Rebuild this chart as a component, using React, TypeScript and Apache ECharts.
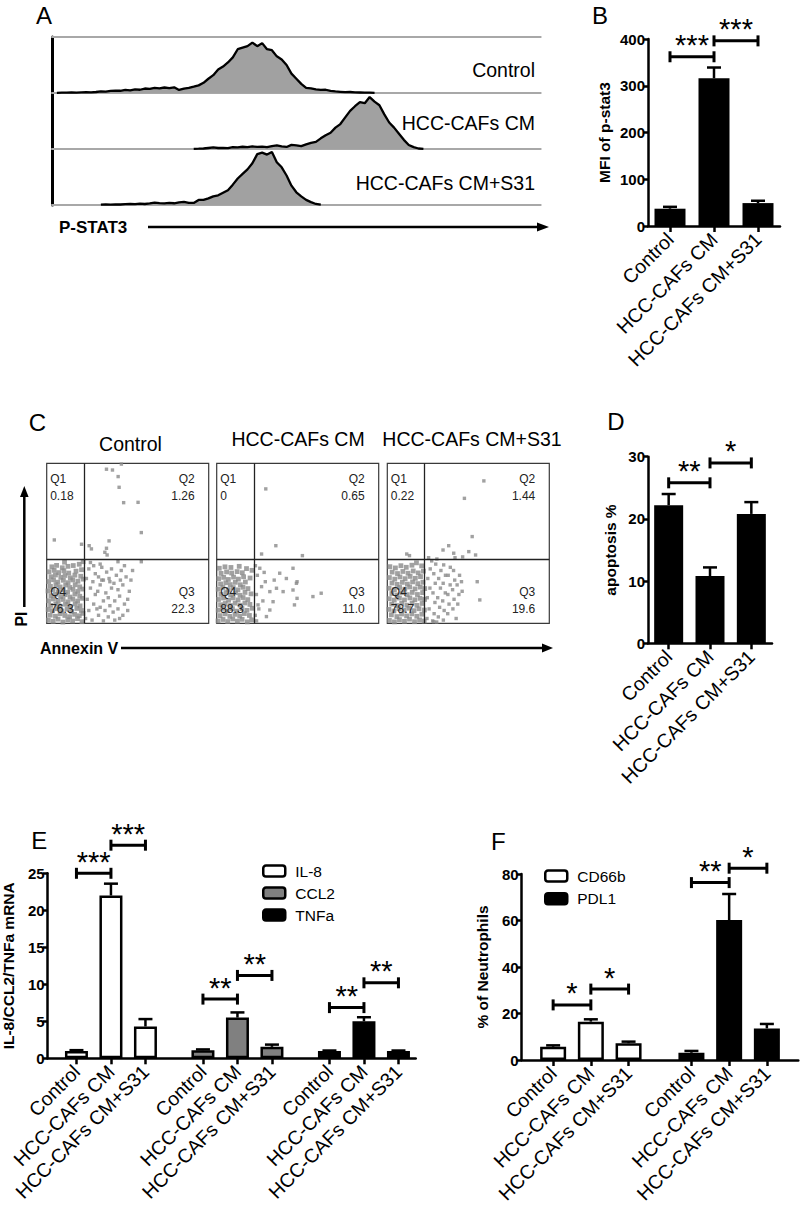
import React, { useEffect, useRef } from 'react';
import * as echarts from 'echarts';

const FONT = '"Liberation Sans", Arial, Helvetica, sans-serif';

// ---------------- Panel A : P-STAT3 histograms (events per channel bin) ----------------
const A_LABELS = ['Control', 'HCC-CAFs CM', 'HCC-CAFs CM+S31'];
const HIST_CONTROL = [
  0, 0.2, 0.3, 0.3, 0.5, 0.4, 0.7, 0.8, 0.6, 1.0,
  1.5, 1.3, 2, 2.4, 2.2, 3, 2.6, 3.6, 3.2, 4.4,
  4, 5, 4.6, 5.4, 4.8, 5.6, 3, 4.2, 5, 6.2,
  7.5, 10, 14, 17.5, 23, 26, 30, 35, 43, 44.5,
  46, 49.5, 46, 49, 43, 42, 36, 33, 27.5, 19,
  14, 9, 5, 4.5, 3.5, 3, 3.2, 2, 1.5, 1.2,
  0.8, 1, 0.6, 0.5, 0.4, 0.3, 0.2, 0, 0, 0,
  0, 0, 0, 0, 0, 0, 0, 0, 0, 0,
  0, 0, 0, 0, 0, 0, 0, 0, 0, 0,
  0, 0, 0, 0, 0, 0, 0, 0, 0, 0,
  0,
];
const HIST_CAFS_CM = [
  0, 0, 0, 0, 0, 0, 0, 0, 0, 0,
  0, 0, 0, 0, 0, 0, 0, 0, 0, 0,
  0, 0, 0, 0, 0, 0, 0, 0, 0, 0.2,
  0.3, 0.5, 1, 1.5, 1, 1.2, 0.8, 1.8, 1.5, 2.2,
  1.8, 2.5, 2, 2.4, 1.8, 2.8, 3.5, 2.5, 2, 4,
  3.5, 2.8, 4.5, 6, 7, 10.5, 13.5, 16, 21, 24.5,
  31, 37.5, 42, 46, 45, 51, 46.5, 43, 34, 26,
  21, 15, 9, 4, 1.8, 0.5, 0.2, 0, 0, 0,
  0, 0, 0, 0, 0, 0, 0, 0, 0, 0,
  0, 0, 0, 0, 0, 0, 0, 0, 0, 0,
  0,
];
const HIST_CAFS_S31 = [
  0, 0, 0, 0, 0, 0, 0, 0, 0, 0,
  0.3, 0.5, 0.3, 0.7, 0.5, 0.8, 1, 0.8, 1.3, 1,
  1.5, 2.3, 1.8, 1.5, 2, 1.7, 2.5, 3, 2, 2,
  5, 5, 6.5, 8.5, 9.5, 12, 14.5, 20, 26, 30.5,
  35, 41, 50, 51.5, 49.5, 52, 42, 37, 29, 19,
  12.5, 8.5, 5, 2.8, 1, 0.3, 0, 0, 0, 0,
  0, 0, 0, 0, 0, 0, 0, 0, 0, 0,
  0, 0, 0, 0, 0, 0, 0, 0, 0, 0,
  0, 0, 0, 0, 0, 0, 0, 0, 0, 0,
  0, 0, 0, 0, 0, 0, 0, 0, 0, 0,
  0,
];

// ---------------- shared group names ----------------
const GROUPS = ['Control', 'HCC-CAFs CM', 'HCC-CAFs CM+S31'];

// ---------------- Panel B : MFI of p-stat3 ----------------
const B_MFI = [37, 316, 49];
const B_SEM = [4, 23, 5];
const B_SIG = [[0, 1, 362, '***'], [1, 2, 396, '***']];

// ---------------- Panel C : Annexin V / PI dot plots ----------------
const C_TITLES = ['Control', 'HCC-CAFs CM', 'HCC-CAFs CM+S31'];
const C_QUAD_CONTROL = ['0.18', '1.26', '22.3', '76.3']; // Q1, Q2, Q3, Q4
const C_QUAD_CAFS_CM = ['0', '0.65', '11.0', '88.3'];
const C_QUAD_CAFS_S31 = ['0.22', '1.44', '19.6', '78.7'];
const C_GATE_X = 23.1;
const C_GATE_Y = 40;

const C_CONTROL_Q4 = [
  1, 2, 4, 1.2, 7, 2.6, 10, 0.8, 13, 2.2, 16, 1.4, 19, 2.9, 21.8, 1,
  2.2, 5.1, 5.4, 4.4, 8.3, 6, 11.2, 4.9, 14.1, 4.1, 17.2, 5.6, 20.1, 4.7, 22.4, 6.2,
  0.9, 8.6, 3.6, 7.9, 6.6, 9.1, 9.4, 7.7, 12.6, 8.9, 15.4, 7.4, 18.6, 9.3, 21.4, 8,
  2.4, 11.2, 5.6, 12.1, 8.4, 10.7, 11.6, 11.9, 14.6, 10.4, 17.6, 12.2, 20.6, 10.9,
  1.1, 14.1, 4.1, 15.2, 7.1, 13.7, 10.1, 14.9, 13.1, 13.4, 16.1, 15.1, 19.1, 13.9, 22.1, 15.6,
  2.6, 17.2, 5.4, 18.1, 8.6, 16.7, 11.4, 17.9, 14.4, 16.4, 17.4, 18.3, 20.4, 16.9,
  0.8, 20.2, 3.9, 21.1, 7.2, 19.7, 10.2, 20.9, 12.9, 19.4, 16.2, 21.2, 19.2, 19.9, 22.2, 21.4,
  2.3, 23.1, 5.7, 24.2, 8.3, 22.7, 11.7, 23.9, 14.3, 22.4, 17.6, 24.1, 20.4, 22.8,
  1.2, 26.1, 4.2, 27.2, 6.9, 25.7, 10.3, 26.9, 13.2, 25.4, 16.1, 27.1, 19.3, 26.3, 22.6, 27.6,
  2.7, 29.1, 5.4, 30.2, 8.7, 28.7, 11.3, 29.9, 14.6, 28.4, 17.4, 30.1, 21, 29.4,
  1.4, 32.2, 4.6, 33.1, 7.4, 31.7, 10.6, 32.9, 13.6, 31.4, 18.1, 32.6, 21.5, 33.5,
  3.2, 35.3, 6.1, 36.2, 9.6, 34.7, 13.1, 35.6, 16.4, 36.1, 20.1, 36.9, 11, 38.2, 22.5, 38.5,
];
const C_CONTROL_REST = [
  24, 3, 26, 8, 25, 15, 27, 22, 24.5, 28, 26, 34, 28, 2, 29, 12, 30, 18, 28.5, 26, 30, 31, 29, 36,
  32, 5, 33, 10, 31.5, 20, 33, 24, 32, 29, 34, 35, 35, 1.5, 36, 8, 35, 14, 36.5, 19, 35, 27, 37, 32,
  38, 4, 39, 11, 38, 16, 40, 22, 38.5, 28, 40, 34, 41, 7, 42, 14, 41.5, 25, 43, 30, 42, 2,
  44, 9, 45, 17, 44, 21, 45.5, 27, 46, 33, 47, 5, 48, 12, 47, 24, 49, 29, 48, 36,
  50, 8, 51, 20, 50, 15, 52, 27, 53, 33, 45, 3, 39, 26, 34, 27, 31, 9, 27, 38, 33, 37, 44, 38.5,
  36.9, 96.3, 40.6, 95.8, 46.1, 99.5, 44.1, 91.7, 44.7, 85, 47.5, 75.4, 56.4, 75.6, 58.4, 56.7,
  4.7, 52.1, 21.5, 49.4, 26.2, 48.5, 27.6, 46.5, 38.5, 51.5, 36.9, 46.9, 35.9, 44.4, 37.3, 42.7, 58.4, 38.5,
];
const C_CAFS_CM_Q4 = [
  0.8, 1.5, 3.9, 2.4, 6.8, 1.1, 9.9, 2.7, 12.8, 1.3, 15.7, 2.5, 18.9, 0.9, 21.6, 2.2,
  2.1, 4.8, 5.2, 5.9, 8.1, 4.3, 11.3, 5.6, 14.2, 4.5, 17.1, 6.1, 20.2, 4.9,
  0.9, 8.2, 3.7, 9.3, 6.6, 7.8, 9.7, 9.1, 12.4, 7.6, 15.6, 9.2, 18.7, 8.1, 21.9, 9.4,
  2.4, 11.6, 5.3, 12.4, 8.5, 11.1, 11.4, 12.6, 14.5, 11.3, 17.4, 12.7, 20.5, 11.8,
  1.1, 14.9, 4.2, 15.8, 7.3, 14.4, 10.1, 15.9, 13.2, 14.6, 16.3, 16.1, 19.2, 14.8,
  2.6, 18.1, 5.7, 19.2, 8.6, 17.7, 11.6, 19.1, 14.4, 17.5, 17.5, 19.3, 21.2, 18.4,
  0.9, 21.3, 3.8, 22.4, 7.1, 21.1, 10.2, 22.3, 13.1, 20.9, 16.2, 22.5, 19.3, 21.7,
  2.4, 24.6, 5.6, 25.4, 8.4, 24.2, 11.5, 25.6, 14.6, 24.1, 17.7, 25.8,
  1.2, 27.9, 4.3, 28.7, 7.2, 27.4, 10.4, 28.9, 13.4, 27.6, 16.6, 29.1, 20.6, 28.3,
  2.7, 31.2, 6.1, 32.1, 9.2, 31.4, 12.6, 32.3, 15.8, 31.6,
  1.6, 34.4, 5.1, 35.3, 8.8, 34.9, 13.9, 35.6, 18.4, 34.2, 21.8, 33.1,
];
const C_CAFS_CM_REST = [
  23.8, 5, 24.5, 18, 25.1, 30, 23.9, 36, 26.6, 34.4, 27.7, 22.9, 30.7, 4.2, 32.8, 8.3, 34.8, 13.5,
  32.8, 19.8, 36.9, 21.9, 38.9, 31.3, 43, 28, 41, 19.8, 47.1, 20.8, 49.2, 25, 47.1, 34.4, 49.6, 26,
  48, 11.5, 49.6, 15.6, 59.4, 16.7, 64.5, 18.8, 28.5, 14, 26, 9, 24.6, 1.5, 30, 26, 29.3, 31.8,
  35.5, 27, 25.5, 11.5,
  30.3, 84, 36.5, 48.5, 27.7, 43.3, 52.9, 42.3,
];
const C_CAFS_S31_Q4 = [
  1.3, 1.8, 4.4, 0.9, 7.5, 2.3, 10.6, 1.2, 13.7, 2.6, 16.8, 1, 19.9, 2.1, 22.8, 1.4,
  2.5, 5.3, 5.9, 4.2, 8.8, 5.8, 11.9, 4.6, 15.1, 5.9, 18.2, 4.4, 21.3, 5.7,
  1, 8.7, 4.1, 7.7, 7.2, 9.2, 10.3, 8.1, 13.3, 9.4, 16.5, 7.9, 19.6, 9.1, 22.9, 8.3,
  2.7, 12, 5.8, 11.1, 8.9, 12.5, 12.1, 11.3, 15.3, 12.6, 18.3, 11.2, 21.5, 12.4,
  1.2, 15.4, 4.3, 14.5, 7.5, 15.8, 10.6, 14.6, 13.9, 15.9, 17, 14.7, 20.2, 15.6, 23, 14.9,
  2.8, 18.6, 6, 17.7, 9.1, 19.1, 12.3, 17.9, 15.4, 19.3, 18.6, 18, 21.8, 19.2,
  1.1, 21.9, 4.4, 21, 7.6, 22.4, 10.8, 21.3, 13.8, 22.7, 17.1, 21.5, 20.3, 22.6, 23.1, 21.7,
  2.9, 25.2, 6.1, 24.3, 9.3, 25.6, 12.4, 24.5, 15.6, 25.9, 18.8, 24.8, 22, 25.7,
  1.3, 28.6, 4.6, 27.6, 7.8, 29, 11, 27.9, 14.1, 29.3, 17.3, 28.1, 20.5, 29.2,
  3, 32, 6.3, 31.1, 9.6, 32.4, 12.8, 31.3, 16, 32.7, 19.1, 31.5, 22.3, 32.6,
  1.6, 35.4, 5, 34.6, 8.4, 36, 11.7, 35, 15.2, 36.3, 21.2, 35.9, 18, 37.8,
];
const C_CAFS_S31_REST = [
  24.5, 3, 25.8, 9, 24.7, 16, 26.3, 22, 25, 28, 26.5, 34, 28, 1.5, 28.9, 6, 29.4, 13, 28.2, 19,
  29.6, 25, 28.7, 31, 29.9, 37, 31.5, 4, 32.3, 10, 31.1, 16, 32.8, 22, 31.7, 28, 33.1, 33, 34.6, 2,
  35.1, 8, 34.2, 14, 35.8, 19, 34.5, 25, 35.9, 30, 34.8, 36.5, 37.3, 6, 38.1, 12, 37.4, 18, 38.8, 24,
  37.6, 30, 38.9, 35, 40.5, 9, 41.2, 15, 40.3, 21, 41.6, 27, 40.9, 33, 43.5, 12, 44.2, 18, 43.1, 24,
  44.6, 30, 46.2, 20, 45.8, 26, 42.5, 3, 30.5, 0.8, 27.4, 39, 28.6, 1, 55.5, 26, 57.1, 14.6,
  59.6, 89, 47.6, 78.1, 52.4, 54.2, 37.9, 48.5, 34.4, 45.8, 50.3, 44.8, 54.5, 42.7, 12, 43.3,
  13.7, 42.3, 41, 43.8, 41.8, 41, 25.5, 41, 30.6, 40.2, 46.5, 41.5,
];

// ---------------- Panel D : apoptosis % ----------------
const D_APOPTOSIS = [22.2, 10.8, 20.8];
const D_SEM = [1.8, 1.4, 1.9];
const D_SIG = [[0, 1, 25.8, '**'], [1, 2, 29, '*']];

// ---------------- Panel E : IL-8 / CCL2 / TNFa mRNA ----------------
const E_GENES = ['IL-8', 'CCL2', 'TNFa'];
const E_IL8 = [1.0, 22.0, 4.3];
const E_IL8_SEM = [0.1, 1.6, 1.0];
const E_CCL2 = [1.1, 5.5, 1.55];
const E_CCL2_SEM = [0.1, 0.7, 0.3];
const E_TNFA = [1.0, 5.0, 1.0];
const E_TNFA_SEM = [0.05, 0.55, 0.05];
const E_SIG = [[0, 1, 25, '***'], [1, 2, 28.8, '***'], [3, 4, 8.0, '**'], [4, 5, 11.2, '**'], [6, 7, 6.85, '**'], [7, 8, 10.2, '**']];

// ---------------- Panel F : % of neutrophils ----------------
const F_MARKERS = ['CD66b', 'PDL1'];
const F_CD66B = [5.7, 16.5, 7.2];
const F_CD66B_SEM = [0.6, 1.0, 0.7];
const F_PDL1 = [3.1, 60.2, 13.6];
const F_PDL1_SEM = [0.8, 11.2, 1.9];
const F_SIG = [[0, 1, 23.7, '*'], [1, 2, 30.5, '*'], [3, 4, 76.3, '**'], [4, 5, 82.5, '*']];

// ---------------- layout (category slot positions for grouped panels) ----------------
const E_SLOT_COUNT = 32;
const E_SLOTS = [2, 5, 8, 13, 16, 19, 24, 27, 30];
const F_SLOT_COUNT = 22;
const F_SLOTS = [2, 5, 8, 13, 16, 19];
const C_BOX_LEFTS = [46.7, 216.7, 387.3];
const C_BOX_W = 162;
const C_BOX_TOP = 463.3;
const C_BOX_H = 160;

const pairs = (flat: number[]) => {
  const out: number[][] = [];
  for (let i = 0; i < flat.length; i += 2) out.push([flat[i], flat[i + 1]]);
  return out;
};
const slotData = (n: number, slots: number[], vals: number[]) => {
  const a: any[] = Array(n).fill('-');
  slots.forEach((s, i) => { a[s] = vals[i]; });
  return a;
};
const slotLabels = (n: number, slots: number[], labels: string[]) => {
  const a: string[] = Array(n).fill('');
  slots.forEach((s, i) => { a[s] = labels[i % labels.length]; });
  return a;
};

const catAxis = (gridIndex: number, data: string[]) => ({
  type: 'category', gridIndex, data, boundaryGap: true,
  axisLine: { show: true, onZero: false, lineStyle: { color: '#000', width: 2.5 } },
  axisTick: {
    show: true, alignWithLabel: true, length: 6,
    interval: (_i: number, v: string) => v !== '',
    lineStyle: { color: '#000', width: 2.5 },
  },
  axisLabel: { show: true, interval: 0, rotate: 45, margin: 10, fontSize: 19.5, color: '#000', fontFamily: FONT },
  splitLine: { show: false },
});
const valAxis = (gridIndex: number, max: number, interval: number, name: string, nameGap: number) => ({
  type: 'value', gridIndex, min: 0, max, interval,
  name, nameLocation: 'middle', nameGap,
  nameTextStyle: { fontSize: 15.5, fontWeight: 'bold', color: '#000', fontFamily: FONT },
  axisLine: { show: true, onZero: false, lineStyle: { color: '#000', width: 2.5 } },
  axisTick: { show: true, length: 5, lineStyle: { color: '#000', width: 2.5 } },
  axisLabel: { show: true, margin: 3, fontSize: 15, fontWeight: 'bold', color: '#000', fontFamily: FONT },
  splitLine: { show: false },
});
const hiddenAxis = (gridIndex: number) => ({
  type: 'value', gridIndex, min: 0, max: 100, show: false, splitLine: { show: false },
});

const errSeries = (xi: number, yi: number, items: number[][], cap = 7) => ({
  type: 'custom', xAxisIndex: xi, yAxisIndex: yi, clip: false, z: 4, silent: true,
  encode: { x: 0, y: 1 },
  data: items,
  renderItem: (_p: any, api: any) => {
    const x = api.value(0), v = api.value(1), e = api.value(2);
    const a = api.coord([x, v]);
    const b = api.coord([x, v + e]);
    const st = { stroke: '#000', lineWidth: 2.5 };
    return {
      type: 'group',
      children: [
        { type: 'line', shape: { x1: a[0], y1: a[1], x2: b[0], y2: b[1] }, style: st },
        { type: 'line', shape: { x1: b[0] - cap, y1: b[1], x2: b[0] + cap, y2: b[1] }, style: st },
      ],
    };
  },
});

const sigSeries = (xi: number, yi: number, items: any[]) => ({
  type: 'custom', xAxisIndex: xi, yAxisIndex: yi, clip: false, z: 6, silent: true,
  encode: { x: [0, 1], y: 2 },
  data: items.map((d) => [d[0], d[1], d[2]]),
  renderItem: (p: any, api: any) => {
    const a = api.coord([api.value(0), api.value(2)]);
    const b = api.coord([api.value(1), api.value(2)]);
    const st = { stroke: '#000', lineWidth: 3 };
    const label = items[p.dataIndex][3];
    return {
      type: 'group',
      children: [
        { type: 'line', shape: { x1: a[0], y1: a[1], x2: b[0], y2: b[1] }, style: st },
        { type: 'line', shape: { x1: a[0], y1: a[1] - 5.5, x2: a[0], y2: a[1] + 5.5 }, style: st },
        { type: 'line', shape: { x1: b[0], y1: b[1] - 5.5, x2: b[0], y2: b[1] + 5.5 }, style: st },
        {
          type: 'text', x: (a[0] + b[0]) / 2, y: a[1] - 11.5,
          style: {
            text: label, fontSize: 29, fontFamily: FONT, fill: '#000',
            align: 'center', verticalAlign: 'middle', textAlign: 'center', textVerticalAlign: 'middle',
          },
        },
      ],
    };
  },
});

const txt = (x: number, y: number, text: string, o: any = {}) => ({
  type: 'text', x, y, z: 100, silent: true, rotation: o.rotation || 0,
  style: {
    text, fontSize: o.size || 19, fontWeight: o.bold ? 'bold' : 'normal', fontFamily: FONT,
    fill: o.fill || '#000',
    align: o.align || 'left', verticalAlign: 'middle',
    textAlign: o.align || 'left', textVerticalAlign: 'middle',
  },
});
const hline = (x1: number, y1: number, x2: number, y2: number, w = 2.5) => ({
  type: 'line', z: 100, silent: true, shape: { x1, y1, x2, y2 }, style: { stroke: '#000', lineWidth: w },
});
const head = (pts: number[][]) => ({
  type: 'polygon', z: 100, silent: true, shape: { points: pts }, style: { fill: '#000' },
});

function buildOption() {
  const hists = [HIST_CONTROL, HIST_CAFS_CM, HIST_CAFS_S31];
  const bins = HIST_CONTROL.map((_, i) => String(i));
  const aTops = [37, 93, 149];

  const grids: any[] = [
    ...aTops.map((t) => ({ left: 52, top: t, width: 488.7, height: 56 })),
    { left: 648, top: 39, width: 132, height: 187 },
    ...C_BOX_LEFTS.map((l) => ({
      left: l, top: C_BOX_TOP, width: C_BOX_W, height: C_BOX_H, show: true,
      borderColor: '#3a3a3a', borderWidth: 1.2, backgroundColor: 'transparent',
    })),
    { left: 648, top: 456.7, width: 124, height: 186.6 },
    { left: 47.7, top: 873.3, width: 368, height: 185 },
    { left: 521.7, top: 874, width: 276.6, height: 186 },
  ].map((g) => ({ containLabel: false, outerBoundsMode: 'none', ...g }));

  const xAxis: any[] = [
    ...[0, 1, 2].map((i) => ({
      type: 'category', gridIndex: i, data: bins, boundaryGap: false,
      axisLine: { show: true, onZero: false, lineStyle: { color: '#a8a8a8', width: 2 } },
      axisTick: { show: false }, axisLabel: { show: false }, splitLine: { show: false },
    })),
    {
      type: 'value', gridIndex: 0, position: 'top', min: 0, max: 1,
      axisLine: { show: true, onZero: false, lineStyle: { color: '#a8a8a8', width: 2 } },
      axisTick: { show: false }, axisLabel: { show: false }, splitLine: { show: false },
    },
    catAxis(3, GROUPS),
    hiddenAxis(4), hiddenAxis(5), hiddenAxis(6),
    catAxis(7, GROUPS),
    catAxis(8, slotLabels(E_SLOT_COUNT, E_SLOTS, GROUPS)),
    catAxis(9, slotLabels(F_SLOT_COUNT, F_SLOTS, GROUPS)),
  ];

  const yAxis: any[] = [
    ...[0, 1, 2].map((i) => ({
      type: 'value', gridIndex: i, min: 0, max: 55,
      axisLine: { show: true, onZero: false, lineStyle: { color: '#000', width: 3 } },
      axisTick: { show: false }, axisLabel: { show: false }, splitLine: { show: false },
    })),
    valAxis(3, 400, 100, 'MFI of p-stat3', 36),
    hiddenAxis(4), hiddenAxis(5), hiddenAxis(6),
    valAxis(7, 30, 10, 'apoptosis %', 30),
    valAxis(8, 25, 5, 'IL-8/CCL2/TNFa mRNA', 31),
    valAxis(9, 80, 20, '% of Neutrophils', 31),
  ];

  const series: any[] = [];
  // A
  hists.forEach((h, i) => {
    series.push({
      type: 'line', xAxisIndex: i, yAxisIndex: i, symbol: 'none', silent: true, z: 3,
      data: h.map((v) => (v > 0 ? v : '-')),
      lineStyle: { color: '#000', width: 2.3 },
      areaStyle: { color: '#a1a1a1', opacity: 1 },
    });
  });
  // B
  series.push({
    type: 'bar', xAxisIndex: 4, yAxisIndex: 3, data: B_MFI, barWidth: 31, silent: true,
    itemStyle: { color: '#000' },
  });
  series.push(errSeries(4, 3, B_MFI.map((v, i) => [i, v, B_SEM[i]])));
  series.push(sigSeries(4, 3, B_SIG));
  // C
  const cSets = [
    [C_CONTROL_Q4, C_CONTROL_REST],
    [C_CAFS_CM_Q4, C_CAFS_CM_REST],
    [C_CAFS_S31_Q4, C_CAFS_S31_REST],
  ];
  cSets.forEach((set, k) => {
    series.push({
      type: 'scatter', xAxisIndex: 5 + k, yAxisIndex: 4 + k, silent: true,
      data: pairs(set[0]),
      symbol: 'rect', symbolSize: 4.8,
      itemStyle: { color: '#8a8a8a' },
      markLine: {
        silent: true, symbol: 'none', label: { show: false },
        lineStyle: { color: '#222', width: 1.3, type: 'solid' },
        data: [{ xAxis: C_GATE_X }, { yAxis: C_GATE_Y }],
      },
    });
    series.push({
      type: 'scatter', xAxisIndex: 5 + k, yAxisIndex: 4 + k, silent: true,
      data: pairs(set[1]),
      symbol: 'rect', symbolSize: 3.4,
      itemStyle: { color: '#8a8a8a' },
    });
  });
  // D
  series.push({
    type: 'bar', xAxisIndex: 8, yAxisIndex: 7, data: D_APOPTOSIS, barWidth: 29, silent: true,
    itemStyle: { color: '#000' },
  });
  series.push(errSeries(8, 7, D_APOPTOSIS.map((v, i) => [i, v, D_SEM[i]])));
  series.push(sigSeries(8, 7, D_SIG));
  // E
  const eStyles = [
    { color: '#fff', borderColor: '#000', borderWidth: 2.5 },
    { color: '#808080', borderColor: '#000', borderWidth: 2.5 },
    { color: '#000', borderColor: '#000', borderWidth: 2.5 },
  ];
  const eVals = [E_IL8, E_CCL2, E_TNFA];
  E_GENES.forEach((g, k) => {
    series.push({
      type: 'bar', name: g, xAxisIndex: 9, yAxisIndex: 8, barWidth: 23, barGap: '-100%', silent: true,
      data: slotData(E_SLOT_COUNT, E_SLOTS.slice(k * 3, k * 3 + 3), eVals[k]),
      itemStyle: eStyles[k],
    });
  });
  const eAllV = [...E_IL8, ...E_CCL2, ...E_TNFA];
  const eAllS = [...E_IL8_SEM, ...E_CCL2_SEM, ...E_TNFA_SEM];
  series.push(errSeries(9, 8, E_SLOTS.map((s, i) => [s, eAllV[i], eAllS[i]])));
  series.push(sigSeries(9, 8, E_SIG.map((d: any) => [E_SLOTS[d[0]], E_SLOTS[d[1]], d[2], d[3]])));
  // F
  const fStyles = [
    { color: '#fff', borderColor: '#000', borderWidth: 2.5 },
    { color: '#000', borderColor: '#000', borderWidth: 2.5 },
  ];
  const fVals = [F_CD66B, F_PDL1];
  F_MARKERS.forEach((m, k) => {
    series.push({
      type: 'bar', name: m, xAxisIndex: 10, yAxisIndex: 9, barWidth: 26, barGap: '-100%', silent: true,
      data: slotData(F_SLOT_COUNT, F_SLOTS.slice(k * 3, k * 3 + 3), fVals[k]),
      itemStyle: fStyles[k],
    });
  });
  const fAllV = [...F_CD66B, ...F_PDL1];
  const fAllS = [...F_CD66B_SEM, ...F_PDL1_SEM];
  series.push(errSeries(10, 9, F_SLOTS.map((s, i) => [s, fAllV[i], fAllS[i]])));
  series.push(sigSeries(10, 9, F_SIG.map((d: any) => [F_SLOTS[d[0]], F_SLOTS[d[1]], d[2], d[3]])));

  // graphic texts
  const g: any[] = [];
  [['A', 44, 15], ['B', 600, 15], ['C', 37.5, 422.5], ['D', 616, 421], ['E', 39.3, 840.5], ['F', 498.3, 841.5]]
    .forEach(([t, x, y]: any) => g.push(txt(x, y, t, { size: 24, align: 'center' })));
  // A labels
  A_LABELS.forEach((l, i) => g.push(txt(535, [70, 123, 183][i], l, { size: 19.5, align: 'right' })));
  g.push(txt(59, 227, 'P-STAT3', { size: 17, bold: true }));
  g.push(hline(148, 227, 540, 227));
  g.push(head([[549, 227], [537, 222.5], [537, 231.5]]));
  // C titles and quadrant labels
  const cTitlePos = [[130.5, 443.5], [298, 438.5], [472, 438.5]];
  C_TITLES.forEach((t, k) => g.push(txt(cTitlePos[k][0], cTitlePos[k][1], t, { size: 19.5, align: 'center' })));
  [C_QUAD_CONTROL, C_QUAD_CAFS_CM, C_QUAD_CAFS_S31].forEach((q, k) => {
    const L = C_BOX_LEFTS[k] + 3.5;
    const R = C_BOX_LEFTS[k] + C_BOX_W - 14;
    const T = C_BOX_TOP;
    const o = { size: 12, fill: '#222' };
    const or = { size: 12, fill: '#222', align: 'right' };
    g.push(txt(L, T + 15.7, 'Q1', o), txt(L, T + 32.7, q[0], o));
    g.push(txt(R, T + 15.7, 'Q2', or), txt(R, T + 32.7, q[1], or));
    g.push(txt(R, T + 128.7, 'Q3', or), txt(R, T + 145.7, q[2], or));
    g.push(txt(L, T + 128.7, 'Q4', o), txt(L, T + 145.7, q[3], o));
  });
  g.push(txt(21, 619, 'PI', { size: 16, bold: true, rotation: Math.PI / 2, align: 'center' }));
  g.push(hline(24.3, 607, 24.3, 495));
  g.push(head([[24.3, 486], [20, 497], [28.6, 497]]));
  g.push(txt(40, 648, 'Annexin V', { size: 16, bold: true }));
  g.push(hline(121, 648, 545, 648));
  g.push(head([[553, 648], [542, 643.5], [542, 652.5]]));

  const legendBase = {
    orient: 'vertical', padding: 0, itemWidth: 22, itemHeight: 11, selectedMode: false,
    textStyle: { fontSize: 15.5, lineHeight: 15, color: '#000', fontFamily: FONT, padding: [0, 0, 0, 5] },
    itemStyle: { borderWidth: 2.5 },
  };

  return {
    animation: false,
    backgroundColor: '#fff',
    textStyle: { fontFamily: FONT },
    grid: grids,
    xAxis,
    yAxis,
    series,
    legend: [
      { ...legendBase, data: E_GENES, left: 262, top: 863, itemGap: 6 },
      { ...legendBase, data: F_MARKERS, left: 544, top: 868, itemGap: 6.7 },
    ],
    graphic: { elements: g },
  };
}

export default function App() {
  const ref = useRef<HTMLDivElement>(null);
  useEffect(() => {
    if (!ref.current) return;
    const chart = echarts.init(ref.current, null, { renderer: 'svg' });
    chart.setOption(buildOption() as any);
    return () => chart.dispose();
  }, []);
  return (
    <div
      ref={ref}
      style={{ position: 'absolute', left: 0, top: 0, width: 800, height: 1221, background: '#fff' }}
    />
  );
}
